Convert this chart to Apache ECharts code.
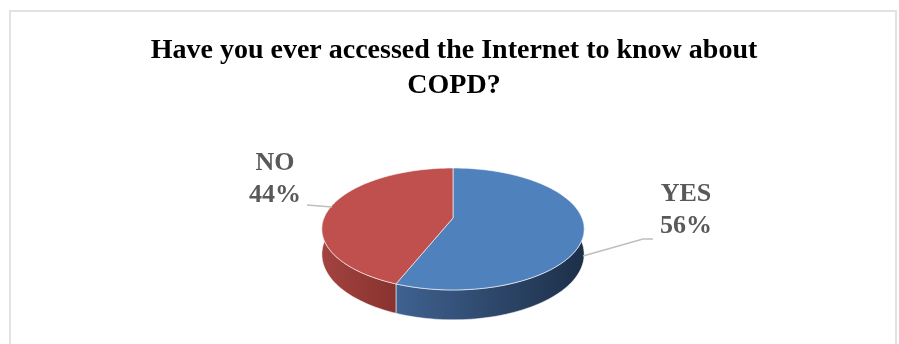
<!DOCTYPE html>
<html>
<head>
<meta charset="utf-8">
<script src="https://cdn.jsdelivr.net/npm/echarts@6/dist/echarts.min.js"></script>
<style>
  html, body { margin: 0; padding: 0; background: #ffffff; }
  #chart { width: 899px; height: 344px; }
</style>
</head>
<body>
<div id="chart"></div>
<script>
// ---- data ----
const categories = ['YES', 'NO'];
const shares = [56, 44];
const titleLines = ['Have you ever accessed the Internet to know about', 'COPD?'];

// ---- styling ----
const topColors = ['#4F81BD', '#C0504D'];
const sideColors = [['#3f6291', '#1d2f48'], ['#a3433f', '#88322f']];
const labelColor = '#595959';
const serif = '"Liberation Serif", "Times New Roman", serif';

// ---- layout of the tilted pie (pixels) ----
// centre, radii, thickness and a perspective factor (front edge appears larger)
const CX = 453, CY = 218, RX = 129, RY = 59, DEPTH = 24.5, PERSP = 0.18;
// label boxes (centre x, top y) and leader polylines, per category
const labelLayout = [
  { x: 686, y: 178, leader: [[583, 256], [643, 239], [653, 239]] },
  { x: 275, y: 147, leader: [[332, 207], [307, 205]] }
];

const total = shares.reduce((a, b) => a + b, 0);
const starts = [];
let acc = 0;
shares.forEach(v => { starts.push(acc / total * 360); acc += v; });

// angle measured clockwise from 12 o'clock; lower = point on the bottom rim
function pt(deg, lower) {
  const r = deg * Math.PI / 180;
  const u = Math.sin(r), v = -Math.cos(r);
  const s = 1 / (1 - PERSP * v);
  return [CX + RX * u * s, CY + RY * v * s + (lower ? DEPTH * s : 0)];
}
function arc(a0, a1, lower) {
  const pts = [];
  const n = Math.max(2, Math.ceil(Math.abs(a1 - a0) / 1.5));
  for (let i = 0; i <= n; i++) pts.push(pt(a0 + (a1 - a0) * i / n, lower));
  return pts;
}
function sweep(api, idx) {
  const a0 = starts[idx];
  return [a0, a0 + api.value(0) / total * 360];
}

function renderSide(params, api) {
  const [a0, a1] = sweep(api, params.dataIndex);
  const s0 = Math.max(a0, 90), s1 = Math.min(a1, 270);
  if (s1 <= s0) return { type: 'group', children: [] };
  const pts = arc(s0, s1, false).concat(arc(s1, s0, true));
  const c = sideColors[params.dataIndex];
  return {
    type: 'polygon',
    shape: { points: pts },
    style: {
      fill: new echarts.graphic.LinearGradient(0, 0, 1, 0, [
        { offset: 0, color: c[0] }, { offset: 1, color: c[1] }
      ]),
      stroke: 'rgba(255,255,255,0.55)',
      lineWidth: 1
    }
  };
}

function renderTop(params, api) {
  const i = params.dataIndex;
  const [a0, a1] = sweep(api, i);
  const pts = [[CX, CY]].concat(arc(a0, a1, false));
  const lay = labelLayout[i];
  return {
    type: 'group',
    children: [
      {
        type: 'polygon',
        shape: { points: pts },
        style: { fill: topColors[i], stroke: 'rgba(255,255,255,0.6)', lineWidth: 1 }
      },
      {
        type: 'polyline',
        shape: { points: lay.leader },
        style: { stroke: '#bfbfbf', lineWidth: 1.5, fill: null }
      },
      {
        type: 'text',
        x: lay.x, y: lay.y,
        style: {
          text: categories[i] + '\n' + api.value(0) + '%',
          font: 'bold 26px ' + serif,
          fill: labelColor,
          align: 'center',
          verticalAlign: 'top',
          lineHeight: 32
        }
      }
    ]
  };
}

const chart = echarts.init(document.getElementById('chart'));
chart.setOption({
  animation: false,
  backgroundColor: '#ffffff',
  graphic: [
    {
      type: 'rect',
      shape: { x: 10, y: 11, width: 886, height: 400 },
      style: { fill: null, stroke: '#e2e2e2', lineWidth: 2 },
      silent: true
    },
    {
      type: 'text',
      x: 454, y: 33,
      style: {
        text: titleLines.join('\n'),
        font: 'bold 28px ' + serif,
        fill: '#000000',
        align: 'center',
        verticalAlign: 'top',
        lineHeight: 35
      }
    }
  ],
  series: [
    {
      type: 'custom',
      coordinateSystem: 'none',
      renderItem: renderSide,
      data: shares,
      z: 1,
      silent: true
    },
    {
      type: 'custom',
      coordinateSystem: 'none',
      renderItem: renderTop,
      data: shares,
      z: 2,
      silent: true
    }
  ]
});
</script>
</body>
</html>
